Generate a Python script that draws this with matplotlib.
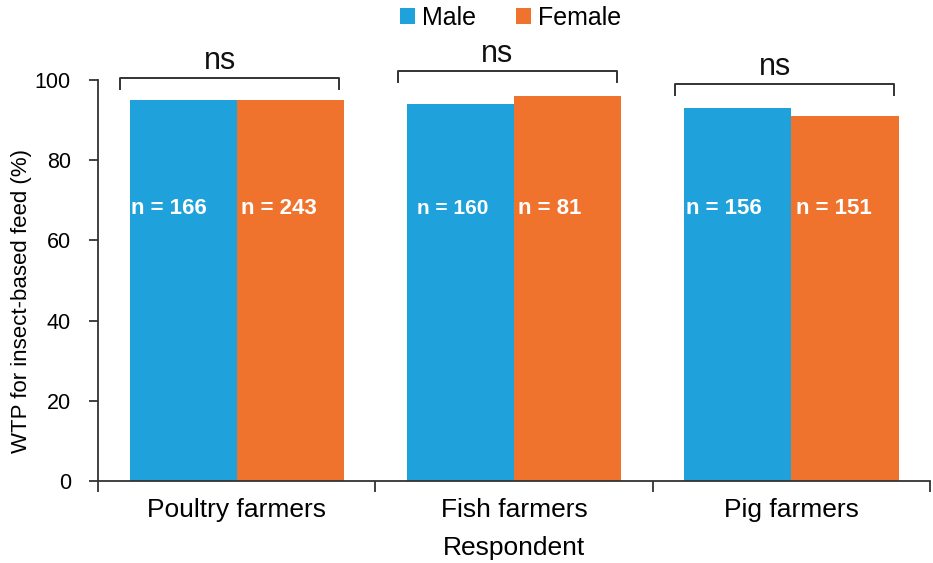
import matplotlib.pyplot as plt
import numpy as np

plt.rcParams["font.family"] = ["Liberation Sans", "DejaVu Sans"]

categories = ["Poultry farmers", "Fish farmers", "Pig farmers"]
male = [95, 94, 93]
female = [95, 96, 91]
male_n = [166, 160, 156]
female_n = [243, 81, 151]
sig_labels = ["ns", "ns", "ns"]
bracket_heights = [100.5, 102.2, 99.0]

blue = "#1fa2dc"
orange = "#f0732d"
dark = "#333333"


def main() -> None:
    fig = plt.figure(figsize=(9.33, 5.63), dpi=100)
    ax = fig.add_axes([0.105, 0.1456, 0.892, 0.7124])

    x = np.arange(len(categories))
    w = 0.386
    ax.bar(x - w / 2, male, w, color=blue, label="Male")
    ax.bar(x + w / 2, female, w, color=orange, label="Female")

    for i in range(len(categories)):
        ax.text(x[i] - w + (0.005 if i != 1 else 0.035), 68, f"n = {male_n[i]}",
                color="white", fontsize=16 if i != 1 else 15,
                fontweight="bold", ha="left", va="center")
        ax.text(x[i] + 0.015, 68, f"n = {female_n[i]}", color="white",
                fontsize=16, fontweight="bold", ha="left", va="center")

        # significance bracket
        h = bracket_heights[i]
        x0, x1 = x[i] - 0.42, x[i] + 0.37
        ax.plot([x0, x0, x1, x1], [h - 2.8, h, h, h - 2.8], color=dark,
                lw=1.4, clip_on=False)
        ax.text((x0 + x1) / 2 - 0.035, h + 0.5, sig_labels[i], fontsize=22,
                ha="center", va="bottom", color="#111111")

    ax.set_xlim(-0.5, 2.5)
    ax.set_ylim(0, 100)
    ax.set_yticks(range(0, 101, 20))
    ax.set_xticks(x)
    ax.set_xticklabels(categories)
    ax.set_xticks([-0.5, 0.5, 1.5, 2.5], minor=True)
    ax.tick_params(axis="x", which="major", length=0, pad=12, labelsize=19)
    ax.tick_params(axis="x", which="minor", length=8, width=1.3, color=dark)
    ax.tick_params(axis="y", length=6.5, width=1.3, color=dark, labelsize=15.5,
                   pad=13)

    for side in ["top", "right"]:
        ax.spines[side].set_visible(False)
    for side in ["left", "bottom"]:
        ax.spines[side].set_color(dark)
        ax.spines[side].set_linewidth(1.3)

    ax.set_xlabel("Respondent", fontsize=19, labelpad=10)
    ax.set_ylabel("WTP for insect-based feed (%)", fontsize=16)
    ax.yaxis.set_label_coords(-0.079, 0.45)

    fig.legend(loc="upper center", bbox_to_anchor=(0.547, 1.03), ncol=2,
               frameon=False, fontsize=18, handlelength=0.6, handleheight=0.6,
               handletextpad=0.28, columnspacing=1.6)

    fig.savefig("out.png", dpi=100)


if __name__ == "__main__":
    main()
